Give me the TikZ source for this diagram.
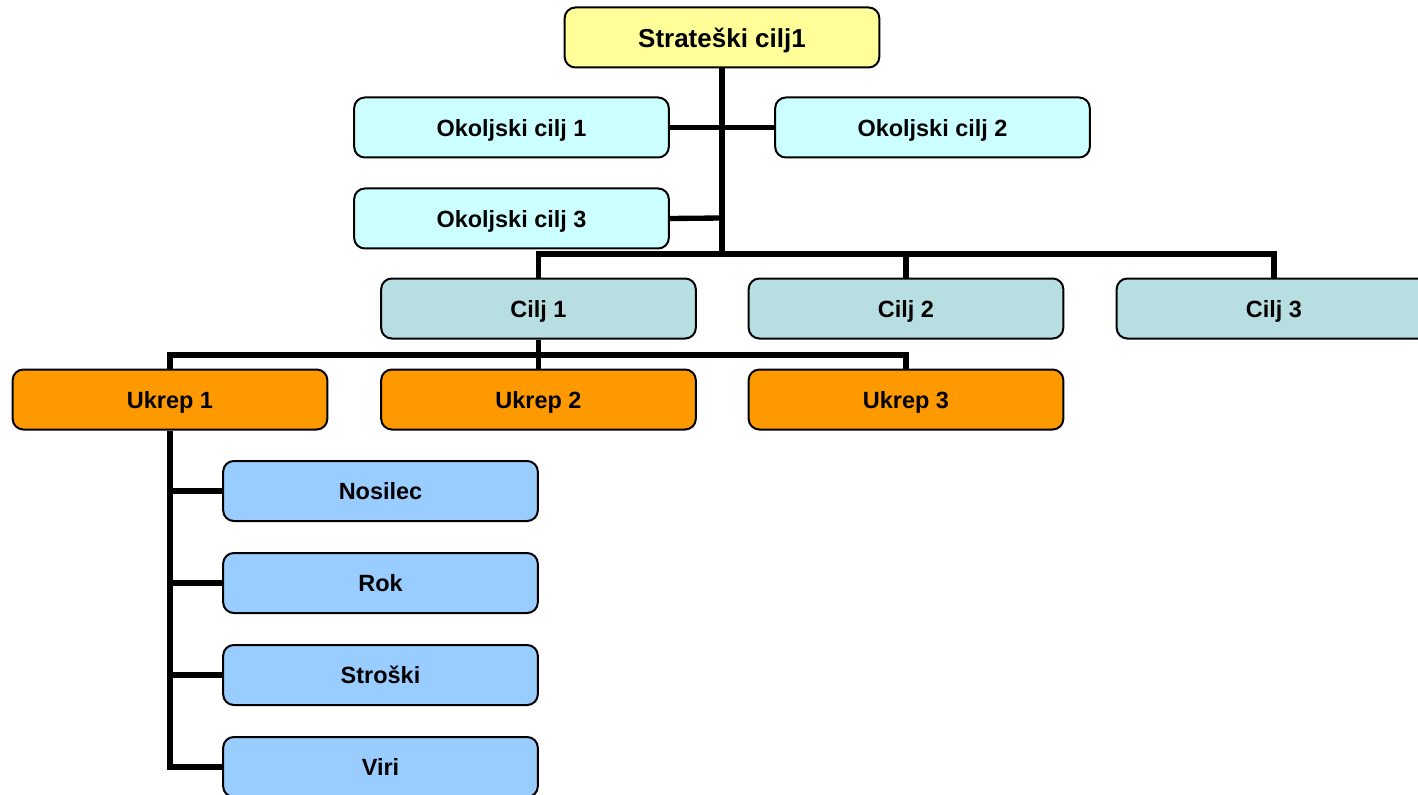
\documentclass[tikz,border=0pt]{standalone}
\usepackage{fontspec}
\setmainfont{Liberation Sans}
\definecolor{cyel}{HTML}{FFFF99}
\definecolor{ccyan}{HTML}{CCFFFF}
\definecolor{cteal}{HTML}{B7DFE2}
\definecolor{corange}{HTML}{FF9900}
\definecolor{cblue}{HTML}{99CCFF}
\pgfdeclarelayer{bg}
\pgfsetlayers{bg,main}
\tikzset{
  box/.style={draw=black, line width=1.5pt, rounded corners=8pt, minimum width=236pt, minimum height=45pt, inner sep=0pt, text depth=0pt, font=\fontsize{17.6}{20}\selectfont\bfseries},
  topbox/.style={box, fill=cyel, font=\fontsize{19.5}{22}\selectfont\bfseries},
  envbox/.style={box, fill=ccyan},
  goalbox/.style={box, fill=cteal},
  actbox/.style={box, fill=corange},
  attrbox/.style={box, fill=cblue},
  link/.style={draw=black, line width=4pt}
}
\begin{document}
\begin{tikzpicture}[x=0.75pt, y=-0.75pt]
\useasboundingbox (0,0) rectangle (1418,795);
\clip (0,0) rectangle (1418,795);
% nodes
\node[topbox] (s) at (722,37.5) {Strateški cilj1};
\node[envbox] (e1) at (511.5,127.5) {Okoljski cilj 1};
\node[envbox] (e2) at (932.5,127.5) {Okoljski cilj 2};
\node[envbox] (e3) at (511.5,218.5) {Okoljski cilj 3};
\node[goalbox] (c1) at (538.5,308.5) {Cilj 1};
\node[goalbox] (c2) at (906,308.5) {Cilj 2};
\node[goalbox] (c3) at (1274,308.5) {Cilj 3};
\node[actbox] (u1) at (170,399.5) {Ukrep 1};
\node[actbox] (u2) at (538.5,399.5) {Ukrep 2};
\node[actbox] (u3) at (906,399.5) {Ukrep 3};
\node[attrbox] (a1) at (380.5,491) {Nosilec};
\node[attrbox] (a2) at (380.5,583) {Rok};
\node[attrbox] (a3) at (380.5,675) {Stroški};
\node[attrbox] (a4) at (380.5,767) {Viri};
% junction coordinates
\coordinate (tb) at (722,254);
\coordinate (j3) at (722,218);
\coordinate (hc1) at (538.5,254);
\coordinate (hc2) at (906,254);
\coordinate (hc3) at (1274,254);
\coordinate (hu0) at (538.5,355);
\coordinate (hu1) at (170,355);
\coordinate (hu3) at (906,355);
\coordinate (r1) at (170,491);
\coordinate (r2) at (170,583);
\coordinate (r3) at (170,675);
\coordinate (r4) at (170,767);
% connectors
\begin{pgfonlayer}{bg}
\draw[link] (s.south) -- (tb);
\draw[link] (e1.east) -- (e2.west);
\draw[link] (e3.east) -- (j3);
\draw[link] (c1.north) -- (hc1) -- (hc3) -- (c3.north);
\draw[link] (hc2) -- (c2.north);
\draw[link] (c1.south) -- (hu0);
\draw[link] (u1.north) -- (hu1) -- (hu3) -- (u3.north);
\draw[link] (hu0) -- (u2.north);
\draw[link] (u1.south) -- (r4) -- (a4.west);
\draw[link] (r1) -- (a1.west);
\draw[link] (r2) -- (a2.west);
\draw[link] (r3) -- (a3.west);
\end{pgfonlayer}
\end{tikzpicture}
\end{document}
